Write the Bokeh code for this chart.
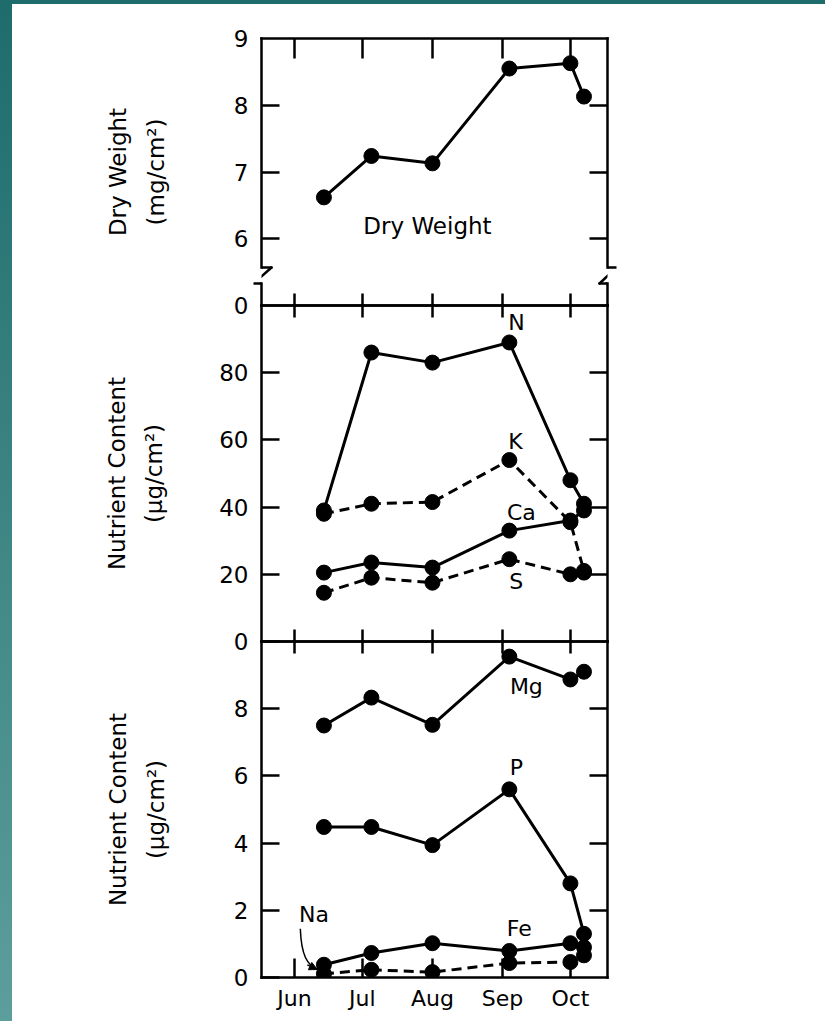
from bokeh.plotting import figure
from bokeh.layouts import column
from bokeh.models import Range1d, LinearAxis, FixedTicker, Arrow, NormalHead
from bokeh.core.properties import value
from bokeh.embed import file_html
from bokeh.resources import INLINE

# ---------------- data ----------------
# sampling dates as day of year (Jun 14, Jul 5, Aug 1, Sep 4, Oct 1, Oct 7)
dates = [165, 186, 213, 247, 274, 280]
month_days = [152, 182, 213, 244, 274]
month_labels = ["Jun", "Jul", "Aug", "Sep", "Oct"]

dry_weight = [6.62, 7.24, 7.13, 8.55, 8.63, 8.13]      # mg/cm2
N = [39, 86, 83, 89, 48, 41]                           # ug/cm2
K = [38, 41, 41.5, 54, 35.5, 21]
Ca = [20.5, 23.5, 22, 33, 36, 39]
S = [14.5, 19, 17.5, 24.5, 20, 20.5]
Mg = [7.5, 8.33, 7.52, 9.55, 8.87, 9.1]
P = [4.48, 4.48, 3.94, 5.6, 2.8, 1.3]
Fe = [0.38, 0.73, 1.02, 0.79, 1.02, 0.9]
Na = [0.11, 0.23, 0.16, 0.43, 0.46, 0.66]

dw_ticks = [5, 6, 7, 8, 9]          # 5 is the axis break, labelled "0"
dw_tick_labels = ["0", "6", "7", "8", "9"]
mid_ticks = [0, 20, 40, 60, 80]
low_ticks = [0, 2, 4, 6, 8]

# ---------------- style ----------------
FONT = "DejaVu Sans"
X0, X1 = 137.4, 290.4
FW = 346
LW = 2.5
PPX = (X1 - X0) / FW
BL = 261           # left border (page px)
BR = 218


def make_fig(y0, y1, fh, btop, bbot, mtop):
    p = figure(x_range=Range1d(X0, X1), y_range=Range1d(y0, y1),
               frame_width=FW, frame_height=fh,
               output_backend="svg", toolbar_location=None,
               x_axis_location=None, y_axis_location=None,
               min_border_left=BL, min_border_right=BR,
               min_border_top=btop, min_border_bottom=bbot,
               background_fill_alpha=0, border_fill_alpha=0,
               outline_line_color=None)
    if mtop:
        p.margin = (mtop, 0, 0, 0)
    p.xgrid.visible = False
    p.ygrid.visible = False
    return p


def seg(p, xa, ya, xb, yb):
    p.add_layout(Arrow(end=None, x_start=xa, y_start=ya, x_end=xb, y_end=yb,
                       line_width=LW, line_color="black", line_cap="round"))


def add_axis(p, side, ticks, labels=None, tin=0, tout=0, line=True, tick_line=True,
             axis_label=None, standoff=60, label_standoff=13, bounds=None):
    ax = LinearAxis(ticker=FixedTicker(ticks=ticks, minor_ticks=[]),
                    major_tick_in=tin, major_tick_out=tout,
                    major_tick_line_width=LW,
                    major_tick_line_color="black" if tick_line else None,
                    minor_tick_line_color=None,
                    axis_line_width=LW, axis_line_color="black" if line else None,
                    axis_line_cap="square",
                    major_label_text_font=FONT, major_label_text_font_size="23px",
                    major_label_text_color="black", major_label_standoff=label_standoff)
    if bounds is not None:
        ax.bounds = bounds
    if labels is None:
        ax.major_label_overrides = {t: "" for t in ticks}
        ax.major_label_standoff = 0
    else:
        ax.major_label_overrides = {t: l for t, l in zip(ticks, labels)}
    if axis_label:
        ax.axis_label = axis_label
        ax.axis_label_text_font = FONT
        ax.axis_label_text_font_size = "23px"
        ax.axis_label_text_font_style = "normal"
        ax.axis_label_text_color = "black"
        ax.axis_label_standoff = standoff
        ax.axis_label_text_line_height = 1.45
    p.add_layout(ax, side)
    return ax


def series(p, y, dash="solid"):
    p.line(dates, y, line_width=3, line_color="black", line_dash=dash)
    p.scatter(dates, y, size=15, fill_color="black", line_color="black")


def tag(p, x, y, t, dx, dy, size="22px"):
    p.text(x=[x], y=[y], text=[t], x_offset=dx, y_offset=dy,
           text_font=value(FONT), text_font_size=size, text_color="black",
           text_align="center", text_baseline="middle")


# ---------------- top panel: dry weight ----------------
top = make_fig(5.0, 9.0, 267, 38, 14, 0)
PPY_T = 4.0 / 267
yb1 = 9 - 229 * PPY_T          # upper end of the axis break
yb2 = 9 - 245 * PPY_T          # lower end of the axis break
EPS = 1e-6

# left side: upper frame line with inner ticks, lower frame line with the
# outer foot of the break, then the labelled axis
add_axis(top, "left", dw_ticks[1:4], None, tin=18, bounds=(yb1, 9.0))
add_axis(top, "left", [yb2], None, tout=8, bounds=(5.0, yb2 + EPS))
add_axis(top, "left", dw_ticks, dw_tick_labels, line=False, tick_line=False,
         label_standoff=5, axis_label="Dry Weight\n(mg/cm²)", standoff=62)
# right side
add_axis(top, "right", dw_ticks[1:4], None, tin=18, bounds=(yb1 - EPS, 9.0))
add_axis(top, "right", [], None, bounds=(5.0, yb2))
add_axis(top, "right", [yb1], None, tout=9, line=False)
add_axis(top, "above", month_days, None, tin=20)
add_axis(top, "below", month_days, None, tin=12)
series(top, dry_weight)
tag(top, dates[2], dry_weight[2], "Dry Weight", -5, 63, "23px")

# break zig-zags (the parts inside the frame)
seg(top, X0, yb1, X0 + 10 * PPX, yb1)
seg(top, X0 + 10 * PPX, yb1, X0 - 8 * PPX, yb2)
seg(top, X1 + 9 * PPX, yb1, X1 - 8 * PPX, yb2)
seg(top, X1 - 8 * PPX, yb2, X1, yb2)

# ---------------- middle panel: N, K, Ca, S ----------------
mid = make_fig(0, 100, 336, 14, 14, -28)
add_axis(mid, "left", mid_ticks, [str(t) for t in mid_ticks], tin=18,
         axis_label="Nutrient Content\n(μg/cm²)", standoff=49)
add_axis(mid, "right", mid_ticks[1:], None, tin=18)
add_axis(mid, "above", month_days, None, tin=12)
add_axis(mid, "below", month_days, None, tin=12)
series(mid, N)
series(mid, K, "10 6")
series(mid, Ca)
series(mid, S, "10 6")
tag(mid, dates[3], N[3], "N", 7, -20)
tag(mid, dates[3], K[3], "K", 6, -19)
tag(mid, dates[3], Ca[3], "Ca", 12, -18)
tag(mid, dates[3], S[3], "S", 7, 22)

# ---------------- bottom panel: Mg, P, Fe, Na ----------------
low = make_fig(0, 10, 336, 14, 44, -28)
add_axis(low, "left", low_ticks, [str(t) for t in low_ticks], tin=18,
         axis_label="Nutrient Content\n(μg/cm²)", standoff=62)
add_axis(low, "right", low_ticks[1:], None, tin=18)
add_axis(low, "above", month_days, None, tin=12)
bx = add_axis(low, "below", month_days, month_labels, tin=19, label_standoff=8)
bx.major_label_text_font_size = "22px"
series(low, Mg)
series(low, P)
series(low, Fe)
series(low, Na, "10 6")
tag(low, dates[3], Mg[3], "Mg", 17, 30)
tag(low, dates[3], P[3], "P", 7, -22)
tag(low, dates[3], Fe[3], "Fe", 10, -22)
tag(low, dates[0], Na[0], "Na", -10, -59)

# curved pointer from the Na label to its first point
PPY_L = 10.0 / 336
sx, sy = dates[0] - 23.6 * PPX, Na[0] + 45 * PPY_L
ex, ey = dates[0] - 6.6 * PPX, Na[0] + 4.3 * PPY_L
c0x, c0y = dates[0] - 22.6 * PPX, Na[0] + 18 * PPY_L
c1x, c1y = dates[0] - 16.6 * PPX, Na[0] + 9 * PPY_L
low.bezier(x0=[sx], y0=[sy], x1=[ex], y1=[ey], cx0=[c0x], cy0=[c0y],
           cx1=[c1x], cy1=[c1y], line_width=1.5, line_color="black")
low.add_layout(Arrow(end=NormalHead(size=8, fill_color="black", line_color="black"),
                     x_start=c1x, y_start=c1y, x_end=ex, y_end=ey,
                     line_width=1.5, line_color="black"))

# page frame: teal band along the top and down the left edge
page_bg = {
    "background-image": "linear-gradient(#1e6c6c, #1e6c6c), linear-gradient(#1e6c6c, #5c9e9b)",
    "background-size": "100% 4px, 12px 100%",
    "background-repeat": "no-repeat",
}
layout = column(top, mid, low, spacing=0, styles=page_bg)
p = layout
open("out.html", "w").write(file_html(p, INLINE))
